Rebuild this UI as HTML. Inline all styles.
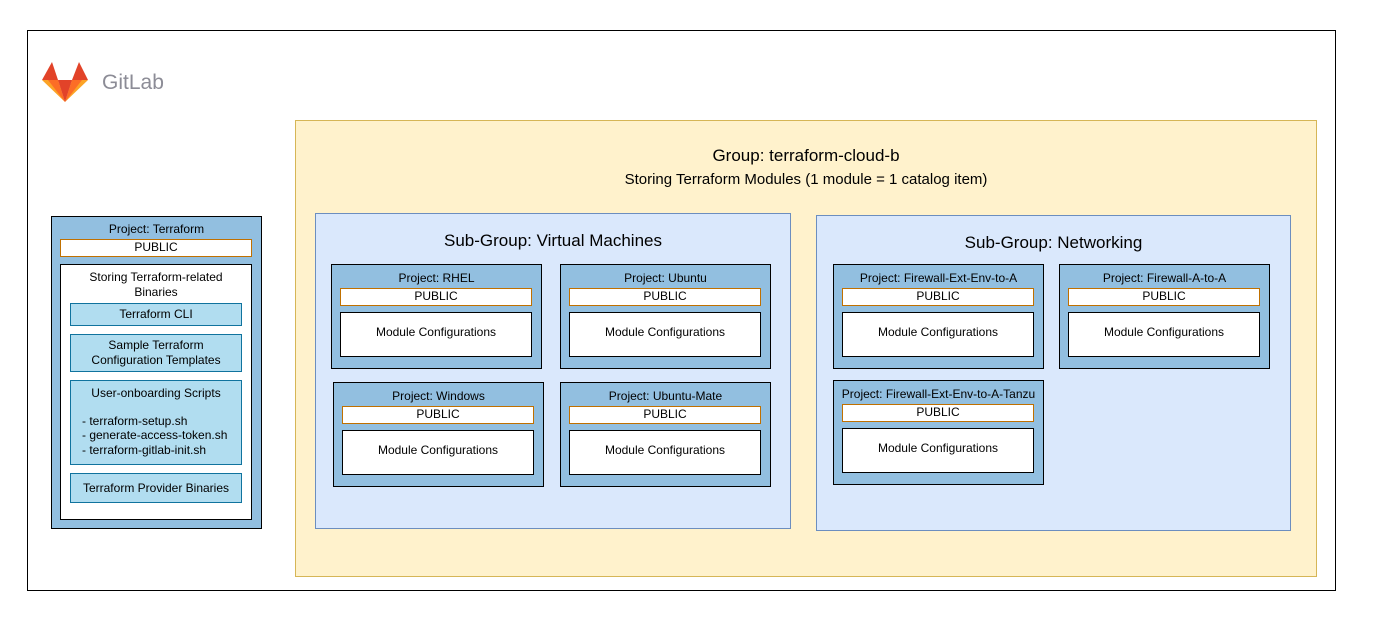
<!DOCTYPE html>
<html><head><meta charset="utf-8"><style>
body{margin:0;width:1375px;height:618px;background:#fff;position:relative;font-family:"Liberation Sans",Arial,sans-serif;overflow:hidden}
div{position:absolute;box-sizing:border-box}
.t{text-align:center;color:#000}
.proj{background:#92bfe0;border:1px solid #000}
.pub{background:#fff;border:1px solid #c07000;font-size:12px;text-align:center;line-height:15px}
.mod{background:#fff;border:1px solid #000;font-size:12px;text-align:center;display:flex;align-items:center;justify-content:center;padding-bottom:6px}
.in{background:#b1ddf0;border:1px solid #10739e;font-size:12px;text-align:center}
</style></head><body>
<div style="left:27px;top:30px;width:1309px;height:561px;border:1px solid #000"></div>
<svg style="position:absolute;left:0;top:0" width="200" height="120">
<polygon points="42,80 52,62 58,80" fill="#e24329"/>
<polygon points="88,80 79,62 72,80" fill="#e24329"/>
<polygon points="42,80 58,80 65,102" fill="#fca326"/>
<polygon points="88,80 72,80 65,102" fill="#fca326"/>
<polygon points="48,80 58,80 65,102" fill="#fc6d26"/>
<polygon points="82,80 72,80 65,102" fill="#fc6d26"/>
<polygon points="58,80 72,80 65,102" fill="#e24329"/>
</svg>
<div style="left:102px;top:71px;font-size:21px;color:#8c8c96">GitLab</div>

<div style="left:295px;top:120px;width:1022px;height:457px;background:#fff2cc;border:1px solid #d6b656"></div>
<div class="t" style="left:295px;top:146px;width:1022px;font-size:17px">Group: terraform-cloud-b</div>
<div class="t" style="left:295px;top:171px;width:1022px;font-size:15px">Storing Terraform Modules (1 module = 1 catalog item)</div>

<div style="left:315px;top:213px;width:476px;height:316px;background:#dae8fc;border:1px solid #6c8ebf"></div>
<div class="t" style="left:315px;top:231px;width:476px;font-size:17px">Sub-Group: Virtual Machines</div>
<div style="left:816px;top:215px;width:475px;height:316px;background:#dae8fc;border:1px solid #6c8ebf"></div>
<div class="t" style="left:816px;top:233px;width:475px;font-size:17px">Sub-Group: Networking</div>

<!-- Terraform project -->
<div class="proj" style="left:51px;top:216px;width:211px;height:313px"></div>
<div class="t" style="left:51px;top:222px;width:211px;font-size:12px">Project: Terraform</div>
<div class="pub" style="left:60px;top:239px;width:192px;height:18px">PUBLIC</div>
<div style="left:60px;top:264px;width:192px;height:256px;background:#fff;border:1px solid #000"></div>
<div class="t" style="left:60px;top:270px;width:192px;font-size:12px;line-height:15px">Storing Terraform-related<br>Binaries</div>
<div class="in" style="left:70px;top:303px;width:172px;height:23px;line-height:21px">Terraform CLI</div>
<div class="in" style="left:70px;top:334px;width:172px;height:38px;line-height:15px;padding-top:3px">Sample Terraform<br>Configuration Templates</div>
<div class="in" style="left:70px;top:380px;width:172px;height:85px;line-height:14.5px;padding-top:5px">User-onboarding Scripts<div style="position:static;text-align:left;padding-left:11px;margin-top:13px">- terraform-setup.sh<br>- generate-access-token.sh<br>- terraform-gitlab-init.sh</div></div>
<div class="in" style="left:70px;top:473px;width:172px;height:30px;line-height:28px">Terraform Provider Binaries</div>

<!-- projects -->
<div class="proj" style="left:331px;top:264px;width:211px;height:105px"></div>
<div class="t" style="left:331px;top:271px;width:211px;font-size:12px">Project: RHEL</div>
<div class="pub" style="left:340px;top:288px;width:192px;height:18px">PUBLIC</div>
<div class="mod" style="left:340px;top:312px;width:192px;height:45px">Module Configurations</div>

<div class="proj" style="left:560px;top:264px;width:211px;height:105px"></div>
<div class="t" style="left:560px;top:271px;width:211px;font-size:12px">Project: Ubuntu</div>
<div class="pub" style="left:569px;top:288px;width:192px;height:18px">PUBLIC</div>
<div class="mod" style="left:569px;top:312px;width:192px;height:45px">Module Configurations</div>

<div class="proj" style="left:333px;top:382px;width:211px;height:105px"></div>
<div class="t" style="left:333px;top:389px;width:211px;font-size:12px">Project: Windows</div>
<div class="pub" style="left:342px;top:406px;width:192px;height:18px">PUBLIC</div>
<div class="mod" style="left:342px;top:430px;width:192px;height:45px">Module Configurations</div>

<div class="proj" style="left:560px;top:382px;width:211px;height:105px"></div>
<div class="t" style="left:560px;top:389px;width:211px;font-size:12px">Project: Ubuntu-Mate</div>
<div class="pub" style="left:569px;top:406px;width:192px;height:18px">PUBLIC</div>
<div class="mod" style="left:569px;top:430px;width:192px;height:45px">Module Configurations</div>

<div class="proj" style="left:833px;top:264px;width:211px;height:105px"></div>
<div class="t" style="left:833px;top:271px;width:211px;font-size:12px">Project: Firewall-Ext-Env-to-A</div>
<div class="pub" style="left:842px;top:288px;width:192px;height:18px">PUBLIC</div>
<div class="mod" style="left:842px;top:312px;width:192px;height:45px">Module Configurations</div>

<div class="proj" style="left:1059px;top:264px;width:211px;height:105px"></div>
<div class="t" style="left:1059px;top:271px;width:211px;font-size:12px">Project: Firewall-A-to-A</div>
<div class="pub" style="left:1068px;top:288px;width:192px;height:18px">PUBLIC</div>
<div class="mod" style="left:1068px;top:312px;width:192px;height:45px">Module Configurations</div>

<div class="proj" style="left:833px;top:380px;width:211px;height:105px"></div>
<div class="t" style="left:833px;top:387px;width:211px;font-size:12px">Project: Firewall-Ext-Env-to-A-Tanzu</div>
<div class="pub" style="left:842px;top:404px;width:192px;height:18px">PUBLIC</div>
<div class="mod" style="left:842px;top:428px;width:192px;height:45px">Module Configurations</div>
</body></html>
